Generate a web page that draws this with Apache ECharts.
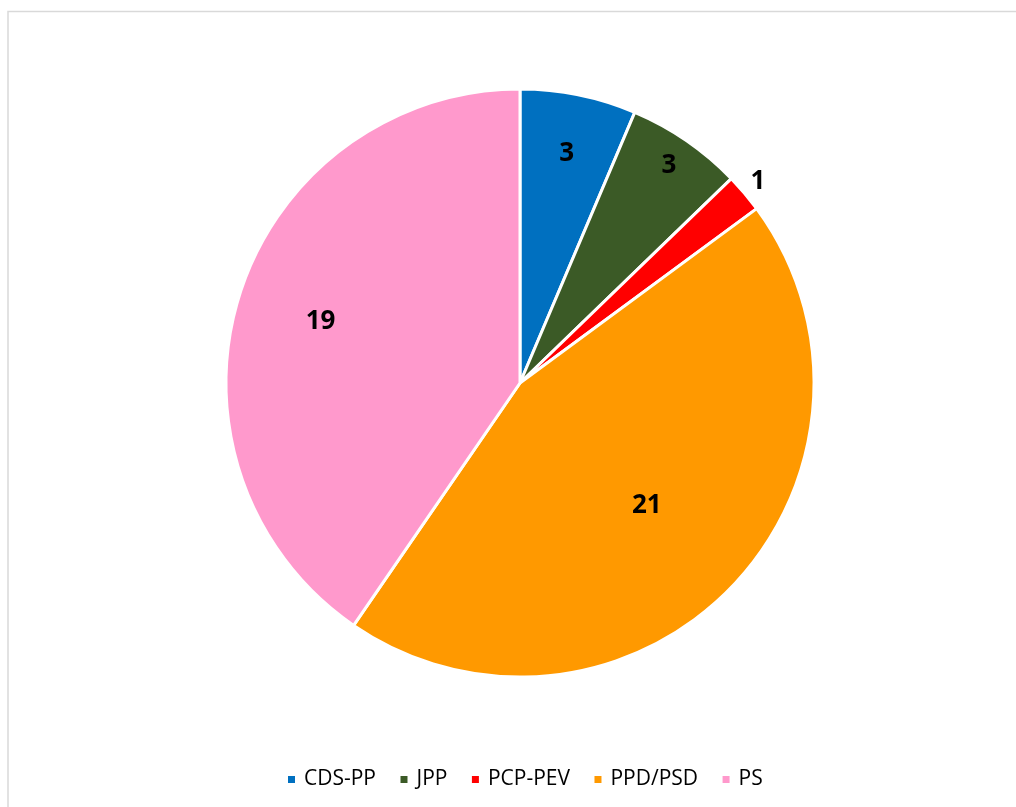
<!DOCTYPE html>
<html>
<head>
<meta charset="utf-8">
<script src="https://cdn.jsdelivr.net/npm/echarts@6/dist/echarts.min.js"></script>
<style>
  html, body { margin: 0; padding: 0; background: #fff; }
  #chart { width: 1016px; height: 807px; }
</style>
</head>
<body>
<div id="chart"></div>
<script>
const parties = ['CDS-PP', 'JPP', 'PCP-PEV', 'PPD/PSD', 'PS']
const seats = [3, 3, 1, 21, 19]
const colors = ['#0070C0', '#3B5A26', '#FF0000', '#FF9900', '#FF99CC']

// label distance from centre, as a share of the radius
const labelDist = [0.785, 0.885, 1.05, 0.59, 0.70]

const R = 294
const CENTER = [520, 383]

const chart = echarts.init(document.getElementById('chart'))

const pieData = parties.map((name, i) => ({
  name,
  value: seats[i],
  itemStyle: { color: colors[i] }
}))

// main pie, no labels
const series = [{
  type: 'pie',
  center: CENTER,
  radius: [0, R],
  startAngle: 90,
  clockwise: true,
  avoidLabelOverlap: false,
  itemStyle: { borderColor: '#fff', borderWidth: 3 },
  label: { show: false },
  labelLine: { show: false },
  emphasis: { disabled: true },
  data: pieData
}]

// one transparent pie per label to place the numbers
labelDist.forEach((d, k) => {
  series.push({
    type: 'pie',
    center: CENTER,
    radius: [0, 2 * d * R],
    startAngle: 90,
    clockwise: true,
    silent: true,
    avoidLabelOverlap: false,
    itemStyle: { color: 'rgba(0,0,0,0)', borderWidth: 0 },
    label: {
      show: true,
      position: 'inside',
      fontFamily: 'Open Sans',
      fontWeight: 'bold',
      fontSize: 26,
      color: '#000',
      formatter: p => (p.dataIndex === k ? String(p.value) : '')
    },
    labelLine: { show: false },
    emphasis: { disabled: true },
    data: parties.map((name, i) => ({ name: name + '_' + k, value: seats[i] }))
  })
})

chart.setOption({
  animation: false,
  graphic: [{
    type: 'rect',
    shape: { x: 8, y: 11.5, width: 1100, height: 900 },
    style: { fill: 'none', stroke: '#D9D9D9', lineWidth: 1.5 },
    silent: true
  }],
  legend: {
    data: parties,
    left: 281,
    top: 764,
    icon: 'rect',
    itemWidth: 9,
    itemHeight: 9,
    itemGap: 22.5,
    textStyle: { fontFamily: 'Open Sans', fontSize: 21, color: '#000', padding: [0, 0, 0, 3] }
  },
  series
})
</script>
</body>
</html>
